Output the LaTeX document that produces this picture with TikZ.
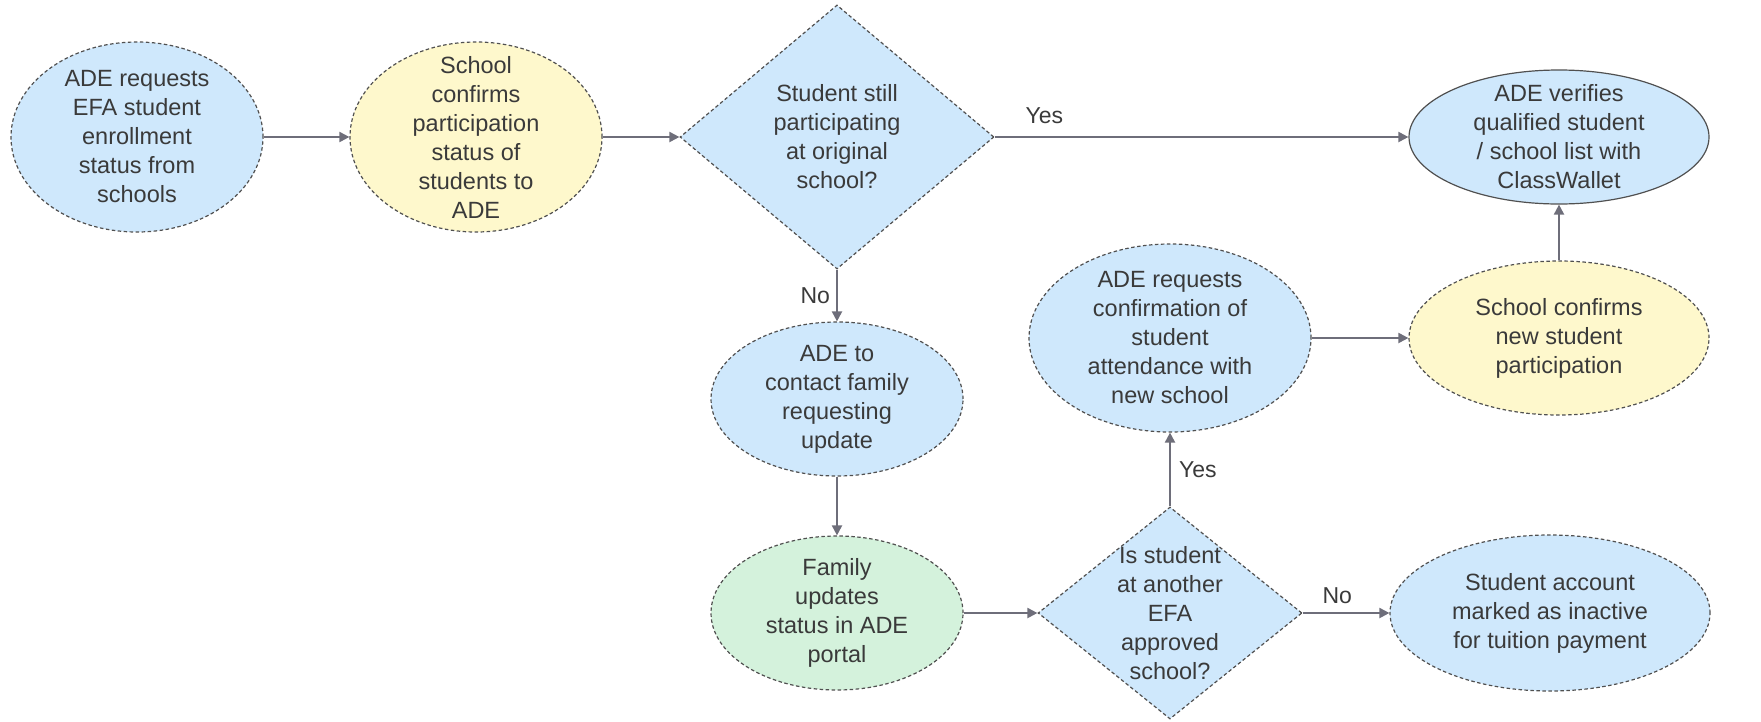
\documentclass[tikz,border=0pt]{standalone}
\usepackage{fontspec}
\setmainfont{Liberation Sans}
\usetikzlibrary{shapes.geometric,arrows.meta}
\definecolor{bluef}{HTML}{CFE8FC}
\definecolor{yellowf}{HTML}{FEF8CC}
\definecolor{greenf}{HTML}{D4F2DC}
\definecolor{bord}{HTML}{505050}
\definecolor{txt}{HTML}{3A3A3A}
\definecolor{arr}{HTML}{6E6E7A}
\begin{document}
\begin{tikzpicture}[x=1pt,y=-1pt,
  txtstyle/.style={font=\fontsize{23.5}{29}\selectfont, text=txt, align=center, inner sep=0pt},
  shapebase/.style={draw=bord, line width=1.2pt, dash pattern=on 3.5pt off 2.5pt, inner sep=0pt},
  proc/.style={shapebase, ellipse},
  decide/.style={shapebase, diamond},
  conn/.style={draw=arr, line width=2pt, -{Triangle[length=10pt,width=10pt]}},
  lbl/.style={font=\fontsize{23}{27}\selectfont, text=txt, inner sep=0pt}
]
\useasboundingbox (0,0) rectangle (1761,721);

\node[proc, fill=bluef, minimum width=252pt, minimum height=190pt,
  label={[txtstyle]center:{ADE requests\\EFA student\\enrollment\\status from\\schools}}] (e1) at (137,137) {};
\node[proc, fill=yellowf, minimum width=252pt, minimum height=190pt,
  label={[txtstyle]center:{School\\confirms\\participation\\status of\\students to\\ADE}}] (e2) at (476,137) {};
\node[decide, fill=bluef, minimum width=314pt, minimum height=264pt,
  label={[txtstyle]center:{Student still\\participating\\at original\\school?}}] (d1) at (837,137) {};
\node[ellipse, draw=bord, line width=1.2pt, inner sep=0pt, fill=bluef, minimum width=300pt, minimum height=134pt,
  label={[txtstyle]center:{ADE verifies\\qualified student\\/ school list with\\ClassWallet}}] (ver) at (1559,137) {};
\node[proc, fill=bluef, minimum width=252pt, minimum height=154pt,
  label={[txtstyle]center:{ADE to\\contact family\\requesting\\update}}] (contact) at (837,399) {};
\node[proc, fill=greenf, minimum width=252pt, minimum height=154pt,
  label={[txtstyle]center:{Family\\updates\\status in ADE\\portal}}] (family) at (837,613) {};
\node[decide, fill=bluef, minimum width=264pt, minimum height=212pt,
  label={[txtstyle]center:{Is student\\at another\\EFA\\approved\\school?}}] (d2) at (1170,613) {};
\node[proc, fill=bluef, minimum width=282pt, minimum height=188pt,
  label={[txtstyle]center:{ADE requests\\confirmation of\\student\\attendance with\\new school}}] (req) at (1170,338) {};
\node[proc, fill=yellowf, minimum width=300pt, minimum height=154pt,
  label={[txtstyle]center:{School confirms\\new student\\participation}}] (newconf) at (1559,338) {};
\node[proc, fill=bluef, minimum width=320pt, minimum height=156pt,
  label={[txtstyle]center:{Student account\\marked as inactive\\for tuition payment}}] (inact) at (1550,613) {};

\draw[conn] (e1.east) -- (e2.west);
\draw[conn] (e2.east) -- (d1.west);
\draw[conn] (d1.east) -- node[lbl, pos=0.12, above=12pt] (yes1) {Yes} (ver.west);
\draw[conn] (d1.south) -- node[lbl, left=6pt] (no1) {No} (contact.north);
\draw[conn] (contact.south) -- (family.north);
\draw[conn] (family.east) -- (d2.west);
\draw[conn] (d2.north) -- node[lbl, right=8pt] (yes2) {Yes} (req.south);
\draw[conn] (d2.east) -- node[lbl, above=8pt, pos=0.4] (no2) {No} (inact.west);
\draw[conn] (req.east) -- (newconf.west);
\draw[conn] (newconf.north) -- (ver.south);
\end{tikzpicture}
\end{document}
